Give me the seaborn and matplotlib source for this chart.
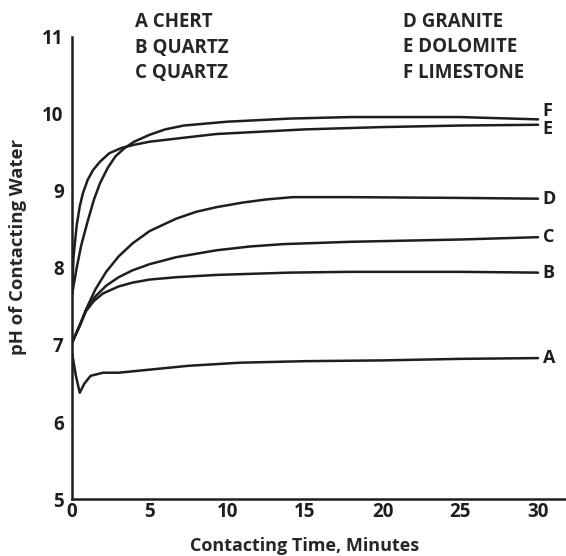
import pandas as pd
import matplotlib
matplotlib.use("Agg")
import matplotlib.pyplot as plt
import seaborn as sns

# Curvas (tempo em minutos, pH)
time_a = [0, 0.25, 0.5, 0.8, 1.2, 2, 3, 4, 5, 7.5, 10.8, 15, 20, 25, 30]
ph_a = [6.9, 6.6, 6.38, 6.5, 6.6, 6.64, 6.64, 6.66, 6.68, 6.73, 6.77, 6.79, 6.8, 6.82, 6.83]

time_b = [0, 0.5, 0.9, 1.4, 2.0, 3.0, 3.9, 5, 6.7, 9.3, 14, 17.9, 25, 30]
ph_b = [7.03, 7.25, 7.44, 7.57, 7.67, 7.76, 7.81, 7.85, 7.88, 7.91, 7.94, 7.95, 7.95, 7.94]

time_c = [0, 0.5, 0.9, 1.5, 2.2, 3.0, 3.9, 5, 6.7, 9.3, 11.5, 13.6, 17.9, 25, 30]
ph_c = [7.03, 7.25, 7.45, 7.63, 7.77, 7.88, 7.97, 8.05, 8.14, 8.23, 8.28, 8.31, 8.34, 8.37, 8.40]

time_d = [0, 0.5, 0.9, 1.5, 2.2, 3.0, 3.9, 5, 6.7, 8, 9.3, 11, 12.5, 14.2, 17.9, 25, 30]
ph_d = [7.03, 7.26, 7.46, 7.72, 7.95, 8.15, 8.32, 8.48, 8.64, 8.73, 8.79, 8.85, 8.89, 8.92, 8.92, 8.91, 8.9]

time_e = [0, 0.1, 0.3, 0.5, 0.7, 1.0, 1.35, 1.8, 2.4, 3.2, 4, 5, 6.7, 9.3, 15, 20, 25, 30]
ph_e = [7.65, 8.15, 8.55, 8.8, 8.97, 9.14, 9.27, 9.38, 9.49, 9.56, 9.6, 9.64, 9.68, 9.74, 9.8, 9.83, 9.85, 9.86]

time_f = [0, 0.3, 0.6, 1.0, 1.4, 1.8, 2.3, 2.8, 3.4, 4, 5, 6, 7.2, 10, 14, 17.9, 25, 30]
ph_f = [7.65, 8.0, 8.3, 8.6, 8.88, 9.1, 9.3, 9.45, 9.56, 9.64, 9.73, 9.8, 9.85, 9.9, 9.94, 9.96, 9.96, 9.93]

letters = ["A", "B", "C", "D", "E", "F"]
letter_shift = [0, 0, 0, 0, -0.05, 0.11]
names_left = ["A CHERT", "B QUARTZ", "C QUARTZ"]
names_right = ["D GRANITE", "E DOLOMITE", "F LIMESTONE"]

x_ticks = [0, 5, 10, 15, 20, 25, 30]
y_ticks = [5, 6, 7, 8, 9, 10, 11]

# Monta o dataframe longo
times = [time_a, time_b, time_c, time_d, time_e, time_f]
phs = [ph_a, ph_b, ph_c, ph_d, ph_e, ph_f]
frames = []
for letter, t, p in zip(letters, times, phs):
    frames.append(pd.DataFrame({"time": t, "ph": p, "rock": letter}))
data = pd.concat(frames, ignore_index=True)

sns.set_style("white")
plt.rcParams["font.family"] = ["Open Sans", "DejaVu Sans"]

fig = plt.figure(figsize=(5.66, 5.56), dpi=100)
ax = fig.add_axes([0.1272, 0.1025, 0.8728, 0.831])

sns.lineplot(data=data, x="time", y="ph", units="rock", estimator=None,
             color="#1e1e1e", linewidth=1.8, ax=ax)

# Letras no fim de cada curva
for letter, shift, t, p in zip(letters, letter_shift, times, phs):
    ax.text(t[-1] + 0.3, p[-1] + shift, letter, fontsize=13, fontweight="bold",
            va="center", ha="left", color="#1e1e1e")

ax.set_xlim(0, 31.8)
ax.set_ylim(5, 11)
ax.set_xticks(x_ticks)
ax.set_yticks(y_ticks)
ax.tick_params(direction="in", length=5, width=1, colors="#555555",
               labelcolor="#1e1e1e", labelsize=13.5)
ax.tick_params(axis="y", pad=6)
ax.tick_params(axis="x", pad=2)
for lbl in ax.get_xticklabels() + ax.get_yticklabels():
    lbl.set_fontweight("bold")

for side in ["top", "right"]:
    ax.spines[side].set_visible(False)
for side in ["left", "bottom"]:
    ax.spines[side].set_linewidth(1.8)
    ax.spines[side].set_color("#1e1e1e")

ax.set_xlabel("Contacting Time, Minutes", fontsize=13, fontweight="bold")
ax.set_ylabel("pH of Contacting Water", fontsize=13.3, fontweight="bold")
ax.xaxis.set_label_coords(0.47, -0.083)
ax.yaxis.set_label_coords(-0.092, 0.545)

# Legenda em texto
for i, (l, r) in enumerate(zip(names_left, names_right)):
    y = 1 - (22 + 25.5 * i) / 556
    fig.text(135 / 566, y, l, fontsize=13.5, fontweight="bold", va="center", ha="left")
    fig.text(403 / 566, y, r, fontsize=13.5, fontweight="bold", va="center", ha="left")

fig.savefig("out.png", dpi=100)
